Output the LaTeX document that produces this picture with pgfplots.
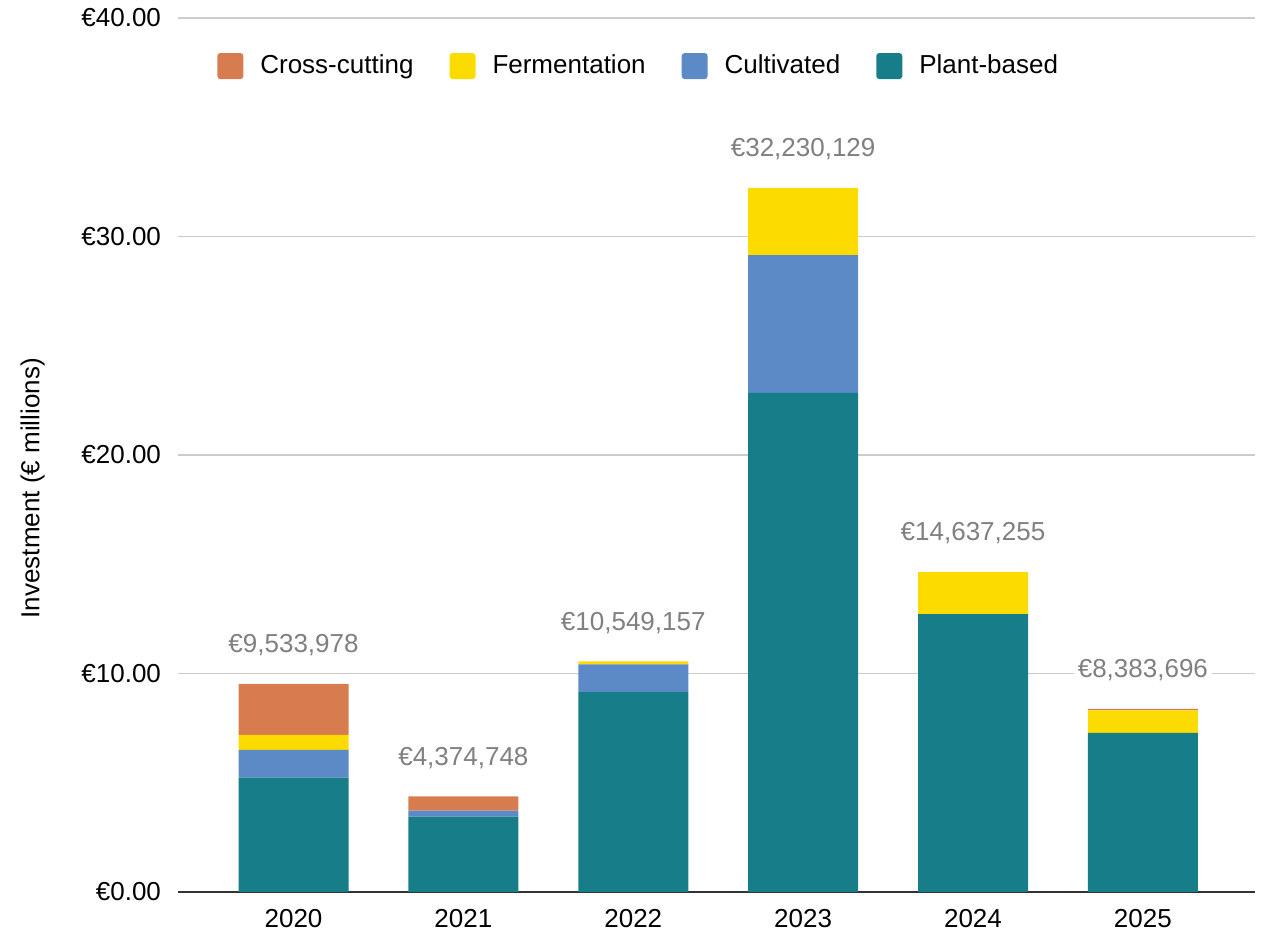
\documentclass[border=0pt]{standalone}
\usepackage{fontspec}
\setmainfont{Liberation Sans}
\usepackage{pgfplots}
\usepackage{pgfplotstable}
\pgfplotsset{compat=1.18}

\definecolor{plant}{HTML}{177E89}
\definecolor{cult}{HTML}{5B8AC6}
\definecolor{ferm}{HTML}{FCDC00}
\definecolor{cross}{HTML}{D67C4E}
\definecolor{lblgray}{HTML}{808080}
\definecolor{gridgray}{HTML}{CCCCCC}

% values in EUR millions
\pgfplotstableread{
x plant cult ferm cross sum total
0 5.23  1.27 0.69 2.34  9.534  €9,533,978
1 3.45  0.27 0.00 0.655 4.375  €4,374,748
2 9.15  1.27 0.13 0.00  10.549 €10,549,157
3 22.84 6.31 3.08 0.00  32.230 €32,230,129
4 12.72 0.00 1.92 0.00  14.637 €14,637,255
5 7.28  0.00 1.03 0.07  8.384  €8,383,696
}\invdata

\pgfplotsset{frame/.style={
    at={(89pt,20.5pt)}, anchor=south west,
    scale only axis, width=538.5pt, height=437pt,
    xmin=-0.68, xmax=5.66, ymin=0, ymax=40}}

\begin{document}
\fontsize{13}{15.6}\selectfont
\begin{tikzpicture}
\useasboundingbox (0,0) rectangle (633pt,466.5pt);
\begin{axis}[
    frame,
    ybar stacked, bar width=55pt,
    xtick=data, xticklabels={2020,2021,2022,2023,2024,2025},
    ytick={0,10,20,30,40},
    yticklabels={€0.00,€10.00,€20.00,€30.00,€40.00},
    tick style={draw=none},
    axis y line*=left, y axis line style={draw=none},
    axis x line*=bottom, x axis line style={draw=black!80, line width=0.8pt},
    ymajorgrids, grid style={gridgray, line width=0.8pt},
    yticklabel style={xshift=-4pt},
    xticklabel style={yshift=-4pt},
    ylabel={Investment (€ millions)},
    ylabel style={at={(axis description cs:-0.135,0.462)}, anchor=center},
    legend style={draw=none, fill=none, at={(0.0306,0.945)}, anchor=west,
        legend columns=-1,
        /tikz/every odd column/.append style={column sep=6.5pt},
        /tikz/every even column/.append style={column sep=16pt}},
    legend image code/.code={\fill[#1, rounded corners=1.5pt] (0pt,-6.5pt) rectangle (13pt,6.5pt);},
    reverse legend,
]
\addplot[fill=plant, draw=none] table[x=x, y=plant] {\invdata};
\addplot[fill=cult, draw=none] table[x=x, y=cult] {\invdata};
\addplot[fill=ferm, draw=none] table[x=x, y=ferm] {\invdata};
\addplot[fill=cross, draw=none] table[x=x, y=cross] {\invdata};
\legend{Plant-based,Cultivated,Fermentation,Cross-cutting}
\end{axis}
% totals above the bars
\begin{axis}[frame, hide axis]
\addplot[only marks, mark=none,
    point meta=explicit symbolic,
    nodes near coords,
    every node near coord/.append style={lblgray, anchor=center, yshift=19.3pt,
        fill=white, inner sep=2pt}]
    table[x=x, y=sum, meta=total] {\invdata};
\end{axis}
\end{tikzpicture}
\end{document}
